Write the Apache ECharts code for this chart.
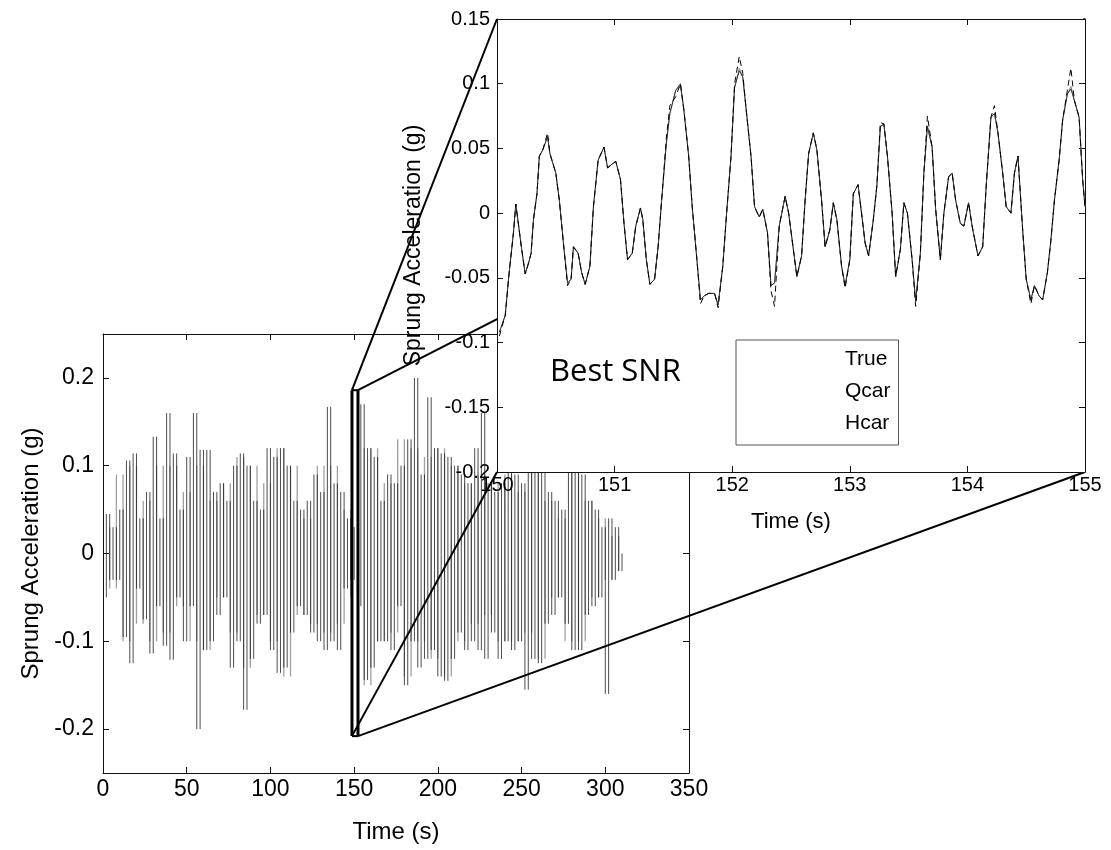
<!DOCTYPE html>
<html><head><meta charset="utf-8">
<script src="https://cdn.jsdelivr.net/npm/echarts@6/dist/echarts.min.js"></script>
<style>html,body{margin:0;padding:0;background:#fff}#c{width:1111px;height:850px}</style>
</head><body><div id="c"></div>
<script>
// ---------- tick labels ----------
const MAIN_X_TICKS = [0, 50, 100, 150, 200, 250, 300, 350];
const MAIN_Y_TICKS = [-0.2, -0.1, 0, 0.1, 0.2];
const INSET_X_TICKS = [150, 151, 152, 153, 154, 155];
const INSET_Y_TICKS = [-0.2, -0.15, -0.1, -0.05, 0, 0.05, 0.1, 0.15];

// ---------- main plot (0-311 s), alternating extremes ----------
const MAIN_BLACK_T0 = 1, MAIN_BLACK_DT = 2;
const MAIN_BLACK_V = [
 -0.05, 0.045, -0.03, 0.03, -0.03, 0.05, -0.095, 0.106, -0.125, 0.114,
 -0.04, 0.04, -0.075, 0.07, -0.114, 0.133, -0.06, 0.04, -0.105, 0.16,
 -0.121, 0.114, -0.05, 0.05, -0.1, 0.11, -0.06, 0.16, -0.2, 0.118,
 -0.11, 0.118, -0.1, 0.07, -0.07, 0.08, -0.05, 0.06, -0.13, 0.1,
 -0.1, 0.114, -0.178, 0.1, -0.12, 0.06, -0.08, 0.05, -0.07, 0.12,
 -0.11, 0.11, -0.136, 0.12, -0.13, 0.1, -0.09, 0.06, -0.06, 0.05,
 -0.07, 0.06, -0.09, 0.09, -0.1, 0.07, -0.11, 0.167, -0.1, 0.08,
 -0.11, 0.07, -0.04, 0.04, -0.03, 0.03, -0.06, 0.17, -0.144, 0.12,
 -0.13, 0.11, -0.1, 0.06, -0.1, 0.09, -0.11, 0.08, -0.06, 0.1,
 -0.15, 0.13, -0.1, 0.2, -0.13, 0.09, -0.12, 0.178, -0.11, 0.12,
 -0.14, 0.114, -0.145, 0.11, -0.12, 0.1, -0.09, 0.09, -0.11, 0.08,
 -0.1, 0.12, -0.11, 0.16, -0.12, 0.08, -0.09, 0.07, -0.12, 0.08,
 -0.1, 0.1, -0.11, 0.09, -0.1, 0.08, -0.155, 0.1, -0.12, 0.12,
 -0.125, 0.1, -0.08, 0.07, -0.07, 0.06, -0.05, 0.05, -0.08, 0.12,
 -0.11, 0.1, -0.11, 0.09, -0.07, 0.06, -0.06, 0.05, -0.05, 0.03,
 -0.16, 0.04, -0.03, 0.03, -0.02, 0.0
];
const MAIN_GRAY_T0 = 2, MAIN_GRAY_DT = 4;
const MAIN_GRAY_V = [
 0.03, -0.04, 0.09, -0.1, 0.1, -0.08, 0.06, -0.1, 0.1, -0.09,
 0.1, -0.06, 0.07, -0.1, 0.1, -0.11, 0.06, -0.05, 0.08, -0.09,
 0.11, -0.13, 0.1, -0.07, 0.08, -0.1, 0.12, -0.14, 0.1, -0.07,
 0.04, -0.08, 0.1, -0.09, 0.1, -0.08, 0.05, -0.05, 0.12, -0.15,
 0.12, -0.1, 0.08, -0.09, 0.13, -0.14, 0.12, -0.1, 0.11, -0.12,
 0.12, -0.14, 0.1, -0.1, 0.08, -0.08, 0.09, -0.07, 0.08, -0.1,
 0.09, -0.1, 0.07, -0.09, 0.11, -0.12, 0.06, -0.05, 0.04, -0.1,
 0.12, -0.1, 0.06, -0.05, 0.04, -0.03, 0.02, -0.02
];

// ---------- inset (150-155 s) ----------
const INSET_T = [
 150.02, 150.07, 150.10, 150.14, 150.16, 150.21, 150.24, 150.27, 150.29, 150.31,
 150.34, 150.36, 150.39, 150.43, 150.45, 150.50, 150.53, 150.57, 150.60, 150.63,
 150.65, 150.69, 150.72, 150.75, 150.79, 150.82, 150.86, 150.91, 150.94, 150.98,
 151.01, 151.05, 151.08, 151.11, 151.15, 151.18, 151.22, 151.24, 151.27, 151.30,
 151.34, 151.37, 151.40, 151.44, 151.47, 151.52, 151.56, 151.59, 151.63, 151.66,
 151.70, 151.73, 151.76, 151.80, 151.85, 151.88, 151.92, 151.95, 151.99, 152.02,
 152.06, 152.09, 152.12, 152.16, 152.19, 152.23, 152.26, 152.30, 152.33, 152.36,
 152.40, 152.45, 152.48, 152.52, 152.55, 152.59, 152.62, 152.65, 152.69, 152.72,
 152.76, 152.79, 152.83, 152.86, 152.89, 152.93, 152.96, 153.00, 153.03, 153.07,
 153.10, 153.13, 153.16, 153.20, 153.23, 153.26, 153.29, 153.32, 153.36, 153.39,
 153.43, 153.46, 153.49, 153.53, 153.56, 153.60, 153.63, 153.66, 153.70, 153.73,
 153.77, 153.80, 153.84, 153.87, 153.90, 153.94, 153.97, 154.01, 154.04, 154.09,
 154.13, 154.16, 154.20, 154.23, 154.26, 154.30, 154.33, 154.37, 154.40, 154.43,
 154.47, 154.50, 154.54, 154.57, 154.61, 154.64, 154.68, 154.71, 154.74, 154.78,
 154.81, 154.85, 154.88, 154.91, 154.95, 154.98, 155.00
];
const INSET_TRUE = [
 -0.092, -0.079, -0.049, -0.015, 0.007, -0.028, -0.047, -0.038, -0.031, -0.005,
 0.015, 0.044, 0.049, 0.059, 0.046, 0.031, 0.010, -0.028, -0.054, -0.051,
 -0.026, -0.031, -0.046, -0.055, -0.041, 0.005, 0.041, 0.051, 0.035, 0.038,
 0.040, 0.026, -0.008, -0.036, -0.031, -0.010, 0.004, -0.005, -0.036, -0.055,
 -0.051, -0.026, 0.010, 0.054, 0.077, 0.095, 0.100, 0.079, 0.044, 0.005,
 -0.036, -0.067, -0.064, -0.062, -0.062, -0.071, -0.041, -0.003, 0.044, 0.097,
 0.110, 0.105, 0.079, 0.044, 0.005, -0.003, 0.003, -0.015, -0.056, -0.054,
 -0.010, 0.013, 0.000, -0.028, -0.049, -0.033, 0.010, 0.046, 0.062, 0.049,
 0.010, -0.026, -0.013, 0.008, -0.005, -0.041, -0.056, -0.036, 0.015, 0.022,
 0.000, -0.023, -0.033, -0.005, 0.021, 0.067, 0.069, 0.044, 0.000, -0.049,
 -0.028, 0.008, 0.000, -0.036, -0.068, -0.031, 0.031, 0.067, 0.051, 0.003,
 -0.036, 0.000, 0.028, 0.031, 0.010, -0.008, -0.010, 0.008, -0.010, -0.033,
 -0.026, 0.021, 0.074, 0.077, 0.062, 0.031, 0.005, 0.000, 0.031, 0.044,
 -0.013, -0.051, -0.067, -0.056, -0.064, -0.067, -0.046, -0.021, 0.010, 0.041,
 0.072, 0.092, 0.096, 0.087, 0.074, 0.026, 0.005
];
const INSET_QCAR = [
 -0.095, -0.079, -0.049, -0.015, 0.007, -0.028, -0.047, -0.038, -0.031, -0.005,
 0.015, 0.044, 0.049, 0.062, 0.046, 0.031, 0.010, -0.028, -0.056, -0.051,
 -0.026, -0.031, -0.046, -0.055, -0.041, 0.005, 0.041, 0.051, 0.035, 0.038,
 0.040, 0.026, -0.008, -0.036, -0.031, -0.010, 0.004, -0.005, -0.036, -0.055,
 -0.051, -0.026, 0.010, 0.058, 0.083, 0.090, 0.100, 0.079, 0.044, 0.005,
 -0.036, -0.070, -0.064, -0.062, -0.062, -0.073, -0.041, -0.003, 0.044, 0.100,
 0.121, 0.108, 0.079, 0.044, 0.005, -0.003, 0.003, -0.015, -0.060, -0.072,
 -0.010, 0.013, 0.000, -0.028, -0.049, -0.033, 0.010, 0.046, 0.062, 0.049,
 0.010, -0.026, -0.013, 0.008, -0.005, -0.041, -0.058, -0.036, 0.015, 0.022,
 0.000, -0.023, -0.033, -0.005, 0.021, 0.070, 0.069, 0.044, 0.000, -0.049,
 -0.028, 0.008, 0.000, -0.036, -0.072, -0.031, 0.031, 0.075, 0.051, 0.003,
 -0.036, 0.000, 0.028, 0.031, 0.010, -0.008, -0.010, 0.008, -0.010, -0.033,
 -0.026, 0.021, 0.074, 0.083, 0.062, 0.031, 0.005, 0.000, 0.031, 0.044,
 -0.013, -0.051, -0.070, -0.056, -0.064, -0.067, -0.046, -0.021, 0.010, 0.041,
 0.072, 0.095, 0.112, 0.087, 0.074, 0.026, 0.005
];
const INSET_HCAR = [
 -0.092, -0.079, -0.049, -0.015, 0.007, -0.028, -0.047, -0.038, -0.031, -0.005,
 0.015, 0.044, 0.049, 0.059, 0.046, 0.031, 0.010, -0.028, -0.054, -0.051,
 -0.026, -0.031, -0.046, -0.055, -0.041, 0.005, 0.041, 0.051, 0.035, 0.038,
 0.040, 0.026, -0.008, -0.036, -0.031, -0.010, 0.004, -0.005, -0.036, -0.055,
 -0.051, -0.026, 0.010, 0.054, 0.077, 0.095, 0.098, 0.079, 0.044, 0.005,
 -0.036, -0.067, -0.064, -0.062, -0.062, -0.071, -0.041, -0.003, 0.044, 0.097,
 0.112, 0.105, 0.079, 0.044, 0.005, -0.003, 0.003, -0.015, -0.056, -0.054,
 -0.010, 0.013, 0.000, -0.028, -0.049, -0.033, 0.010, 0.046, 0.062, 0.049,
 0.010, -0.026, -0.013, 0.008, -0.005, -0.041, -0.056, -0.036, 0.015, 0.022,
 0.000, -0.023, -0.033, -0.005, 0.021, 0.067, 0.068, 0.044, 0.000, -0.049,
 -0.028, 0.008, 0.000, -0.036, -0.068, -0.031, 0.031, 0.067, 0.051, 0.003,
 -0.036, 0.000, 0.028, 0.031, 0.010, -0.008, -0.010, 0.008, -0.010, -0.033,
 -0.026, 0.021, 0.074, 0.077, 0.062, 0.031, 0.005, 0.000, 0.031, 0.044,
 -0.013, -0.051, -0.067, -0.056, -0.064, -0.067, -0.046, -0.021, 0.010, 0.041,
 0.072, 0.092, 0.098, 0.087, 0.074, 0.026, 0.005
];

// zoom box drawn on the main plot (data units)
const ZOOM_T = [148.7, 152.3];
const ZOOM_V = [-0.208, 0.186];

// ---------- chart ----------
const FONT = '"Liberation Sans", Arial, Helvetica, sans-serif';
const chart = echarts.init(document.getElementById('c'), null, {renderer: 'canvas'});

const axLine = {show: true, onZero: false, lineStyle: {color: '#111', width: 1}};
const tickIn = (vals) => ({show: true, inside: true, length: 6, lineStyle: {color: '#111', width: 1}, customValues: vals});
const fmt = v => String(+(+v).toFixed(2));

function boxAxis(grid, min, max, pos, z, ticks) {
  return {gridIndex: grid, type: 'value', min, max, position: pos, z,
    axisLine: axLine, axisTick: tickIn(ticks), axisLabel: {show: false, customValues: ticks},
    splitLine: {show: false}};
}

// dense signal: each swing between consecutive extremes drawn as a vertical stroke
function strokes(t0, dt, vals) {
  const out = [];
  for (let i = 0; i + 1 < vals.length; i++) {
    const t = t0 + (i + 0.5) * dt;
    out.push([t, vals[i]], [t, vals[i + 1]], [t, '-']);
  }
  return out;
}
const mainBlack = strokes(MAIN_BLACK_T0, MAIN_BLACK_DT, MAIN_BLACK_V);
const mainGray = strokes(MAIN_GRAY_T0, MAIN_GRAY_DT, MAIN_GRAY_V);
const pair = (arr) => INSET_T.map((t, i) => [t, arr[i]]);

const option = {
  animation: false,
  backgroundColor: '#fff',
  textStyle: {fontFamily: FONT},
  grid: [
    {left: 103, top: 334, width: 586, height: 439, show: false, z: 0},
    {left: 497, top: 19, width: 588, height: 453, show: true, backgroundColor: '#fff', borderWidth: 0, z: 5}
  ],
  xAxis: [
    {gridIndex: 0, type: 'value', min: 0, max: 350, position: 'bottom', z: 0,
     axisLine: axLine, axisTick: tickIn(MAIN_X_TICKS),
     axisLabel: {customValues: MAIN_X_TICKS, fontSize: 23, margin: 5, color: '#000', fontFamily: FONT, formatter: fmt},
     splitLine: {show: false},
     name: 'Time (s)', nameLocation: 'middle', nameGap: 47,
     nameTextStyle: {fontSize: 24, color: '#000', fontFamily: FONT}},
    boxAxis(0, 0, 350, 'top', 0, MAIN_X_TICKS),
    {gridIndex: 1, type: 'value', min: 150, max: 155, position: 'bottom', z: 6,
     axisLine: axLine, axisTick: tickIn(INSET_X_TICKS),
     axisLabel: {customValues: INSET_X_TICKS, fontSize: 20, margin: 3, color: '#000', fontFamily: FONT, formatter: fmt},
     splitLine: {show: false},
     name: 'Time (s)', nameLocation: 'middle', nameGap: 39,
     nameTextStyle: {fontSize: 22, color: '#000', fontFamily: FONT}},
    boxAxis(1, 150, 155, 'top', 6, INSET_X_TICKS)
  ],
  yAxis: [
    {gridIndex: 0, type: 'value', min: -0.25, max: 0.25, position: 'left', z: 0,
     axisLine: axLine, axisTick: tickIn(MAIN_Y_TICKS),
     axisLabel: {customValues: MAIN_Y_TICKS, fontSize: 23, margin: 9, color: '#000', fontFamily: FONT, formatter: fmt},
     splitLine: {show: false},
     name: 'Sprung Acceleration (g)', nameLocation: 'middle', nameGap: 57,
     nameTextStyle: {fontSize: 24, color: '#000', fontFamily: FONT}},
    boxAxis(0, -0.25, 0.25, 'right', 0, MAIN_Y_TICKS),
    {gridIndex: 1, type: 'value', min: -0.2, max: 0.15, position: 'left', z: 6,
     axisLine: axLine, axisTick: tickIn(INSET_Y_TICKS),
     axisLabel: {customValues: INSET_Y_TICKS, fontSize: 20, margin: 7, color: '#000', fontFamily: FONT, formatter: fmt},
     splitLine: {show: false},
     name: 'Sprung Acceleration (g)', nameLocation: 'middle', nameGap: 72,
     nameTextStyle: {fontSize: 23, color: '#000', fontFamily: FONT}},
    boxAxis(1, -0.2, 0.15, 'right', 6, INSET_Y_TICKS)
  ],
  legend: {
    left: 736, top: 340, orient: 'vertical', padding: [9, 8, 11, 8],
    itemGap: 11, itemWidth: 95, itemHeight: 21,
    borderColor: '#555', borderWidth: 1, backgroundColor: '#fff',
    textStyle: {fontSize: 21, color: '#000', fontFamily: FONT},
    itemStyle: {opacity: 0}, lineStyle: {opacity: 0},
    selectedMode: false, z: 9,
    data: ['True', 'Qcar', 'Hcar']
  },
  series: [
    {name: 'main gray', type: 'line', xAxisIndex: 0, yAxisIndex: 0, z: 2, data: mainGray,
     connectNulls: false, showSymbol: false, symbol: 'none', lineStyle: {color: '#a0a0a0', width: 1.3}, silent: true},
    {name: 'main black', type: 'line', xAxisIndex: 0, yAxisIndex: 0, z: 2, data: mainBlack,
     connectNulls: false, showSymbol: false, symbol: 'none', lineStyle: {color: '#1e1e1e', width: 0.8}, silent: true},
    {name: 'Hcar', type: 'line', xAxisIndex: 2, yAxisIndex: 2, z: 7, data: pair(INSET_HCAR),
     showSymbol: false, symbol: 'none', lineStyle: {color: '#8a8a8a', width: 1}},
    {name: 'True', type: 'line', xAxisIndex: 2, yAxisIndex: 2, z: 7, data: pair(INSET_TRUE),
     showSymbol: false, symbol: 'none', lineStyle: {color: '#333', width: 1}},
    {name: 'Qcar', type: 'line', xAxisIndex: 2, yAxisIndex: 2, z: 7, data: pair(INSET_QCAR),
     showSymbol: false, symbol: 'none', lineStyle: {color: '#000', width: 1, type: [6, 4]}}
  ]
};
chart.setOption(option);

// zoom box and connector lines, positioned through the axes
const mp = (t, v) => chart.convertToPixel({xAxisIndex: 0, yAxisIndex: 0}, [t, v]);
const ip = (t, v) => chart.convertToPixel({xAxisIndex: 2, yAxisIndex: 2}, [t, v]);
const bTL = mp(ZOOM_T[0], ZOOM_V[1]), bTR = mp(ZOOM_T[1], ZOOM_V[1]);
const bBL = mp(ZOOM_T[0], ZOOM_V[0]), bBR = mp(ZOOM_T[1], ZOOM_V[0]);
const iTL = ip(150, 0.15), iTR = ip(155, 0.15), iBL = ip(150, -0.2), iBR = ip(155, -0.2);
const seg = (a, b, w) => ({type: 'line', z: 3, shape: {x1: a[0], y1: a[1], x2: b[0], y2: b[1]},
  style: {stroke: '#000', lineWidth: w}, silent: true});
chart.setOption({
  graphic: [
    seg(bTL, iTL, 2), seg(bTR, iTR, 2), seg(bBL, iBL, 2), seg(bBR, iBR, 2),
    seg(bTL, bBL, 3), seg(bTR, bBR, 3), seg(bTL, bTR, 2), seg(bBL, bBR, 2),
    {type: 'text', z: 9, silent: true,
     style: {text: 'Best SNR', x: 550, y: 372, fill: '#000', font: '31px "Open Sans", "Noto Sans", sans-serif', verticalAlign: 'middle'}}
  ]
});
</script>
</body></html>
